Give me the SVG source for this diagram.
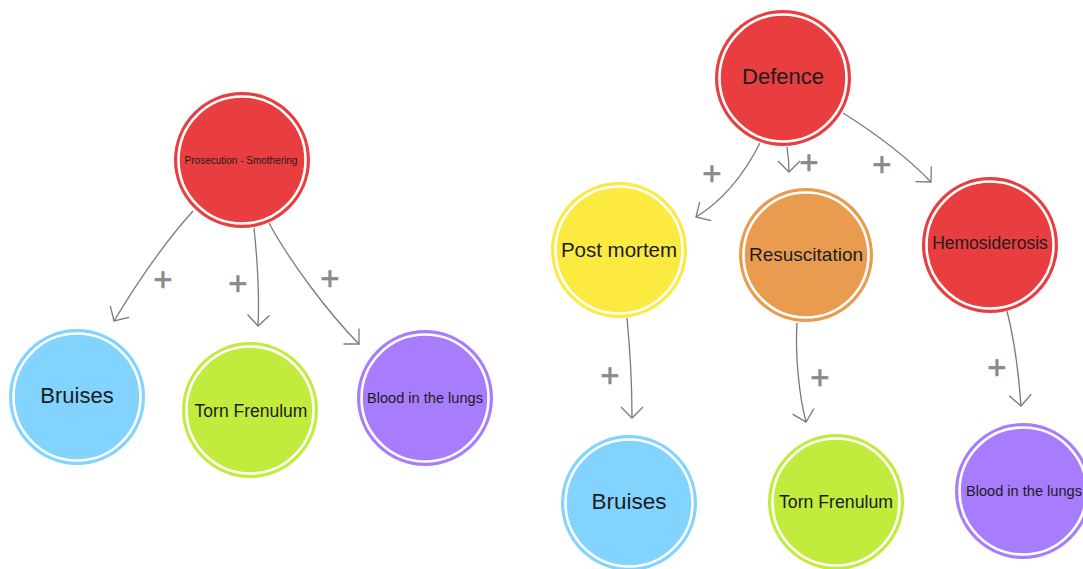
<svg xmlns="http://www.w3.org/2000/svg" width="1083" height="569" viewBox="0 0 1083 569">
<style>
.node circle.f{stroke:none}
.node circle.r{fill:none;stroke:#ffffff;stroke-width:2.6}
.red{fill:#E83E3F}
.blue{fill:#82D3FE}
.green{fill:#C2EC3D}
.purple{fill:#A77DFE}
.yellow{fill:#FCEA40}
.orange{fill:#E99C50}
.lbl{font-family:"Liberation Sans",Arial,sans-serif;fill:#1c1c1c;text-anchor:middle}
.edge{fill:none;stroke:#7a7a7a;stroke-width:1.3}
.plus{font-family:"Liberation Sans",Arial,sans-serif;fill:#8a8a8a;stroke:#8a8a8a;stroke-width:0.6;font-size:33px;text-anchor:middle}
</style>
<defs>
<marker id="arr" markerUnits="userSpaceOnUse" markerWidth="30" markerHeight="30" refX="0" refY="0" orient="auto" overflow="visible">
<path d="M-11,-11 L0,0 L-11,11" fill="none" stroke="#7a7a7a" stroke-width="1.3"/>
</marker>
</defs>
<rect width="1083" height="569" fill="#ffffff"/>

<g id="connectors">
<path class="edge" marker-end="url(#arr)" d="M193,211 Q155,253 114,321"/>
<path class="edge" marker-end="url(#arr)" d="M254,228 Q260,285 258,326"/>
<path class="edge" marker-end="url(#arr)" d="M269,223 C290,262 330,315 359,344"/>
<path class="edge" marker-end="url(#arr)" d="M760,143 Q734,194 696,217"/>
<path class="edge" marker-end="url(#arr)" d="M787,147 Q789,160 789,172"/>
<path class="edge" marker-end="url(#arr)" d="M843,113 C870,130 905,155 931,182"/>
<path class="edge" marker-end="url(#arr)" d="M627,318 Q632,370 632,418"/>
<path class="edge" marker-end="url(#arr)" d="M797,323 C795,355 799,395 806,422"/>
<path class="edge" marker-end="url(#arr)" d="M1007,311 Q1017,350 1021,406"/>
<text class="plus" x="163" y="291">+</text>
<text class="plus" x="238" y="295">+</text>
<text class="plus" x="330" y="290">+</text>
<text class="plus" x="712" y="185">+</text>
<text class="plus" x="809" y="174">+</text>
<text class="plus" x="882" y="176">+</text>
<text class="plus" x="610" y="387">+</text>
<text class="plus" x="820" y="389">+</text>
<text class="plus" x="997" y="379">+</text>
</g>

<g id="prosecution" class="node">
<circle class="f red" cx="242" cy="160" r="68"/>
<circle class="r" cx="242" cy="160" r="63.5"/>
<text class="lbl" x="241" y="164" font-size="10">Prosecution - Smothering</text>
</g>
<g id="bruises-left" class="node">
<circle class="f blue" cx="77" cy="397" r="68"/>
<circle class="r" cx="77" cy="397" r="63.5"/>
<text class="lbl" x="77" y="403" font-size="22">Bruises</text>
</g>
<g id="torn-frenulum-left" class="node">
<circle class="f green" cx="250" cy="410" r="68"/>
<circle class="r" cx="250" cy="410" r="63.5"/>
<text class="lbl" x="251" y="417" font-size="17.5">Torn Frenulum</text>
</g>
<g id="blood-left" class="node">
<circle class="f purple" cx="425" cy="398" r="68"/>
<circle class="r" cx="425" cy="398" r="63.5"/>
<text class="lbl" x="425" y="403" font-size="14.6">Blood in the lungs</text>
</g>

<g id="defence" class="node">
<circle class="f red" cx="783" cy="78" r="68"/>
<circle class="r" cx="783" cy="78" r="63.5"/>
<text class="lbl" x="783" y="84" font-size="22">Defence</text>
</g>
<g id="post-mortem" class="node">
<circle class="f yellow" cx="619" cy="250" r="68"/>
<circle class="r" cx="619" cy="250" r="63.5"/>
<text class="lbl" x="619" y="257" font-size="20.5">Post mortem</text>
</g>
<g id="resuscitation" class="node">
<circle class="f orange" cx="806" cy="255" r="67"/>
<circle class="r" cx="806" cy="255" r="62.5"/>
<text class="lbl" x="806" y="261" font-size="19">Resuscitation</text>
</g>
<g id="hemosiderosis" class="node">
<circle class="f red" cx="990" cy="245" r="68"/>
<circle class="r" cx="990" cy="245" r="63.5"/>
<text class="lbl" x="990" y="249" font-size="17.5">Hemosiderosis</text>
</g>
<g id="bruises-right" class="node">
<circle class="f blue" cx="629" cy="503" r="68"/>
<circle class="r" cx="629" cy="503" r="63.5"/>
<text class="lbl" x="629" y="509" font-size="22.5">Bruises</text>
</g>
<g id="torn-frenulum-right" class="node">
<circle class="f green" cx="836" cy="502" r="68"/>
<circle class="r" cx="836" cy="502" r="63.5"/>
<text class="lbl" x="836" y="508" font-size="17.7">Torn Frenulum</text>
</g>
<g id="blood-right" class="node">
<circle class="f purple" cx="1023" cy="491" r="68"/>
<circle class="r" cx="1023" cy="491" r="63.5"/>
<text class="lbl" x="1024" y="496" font-size="14.6">Blood in the lungs</text>
</g>
</svg>
